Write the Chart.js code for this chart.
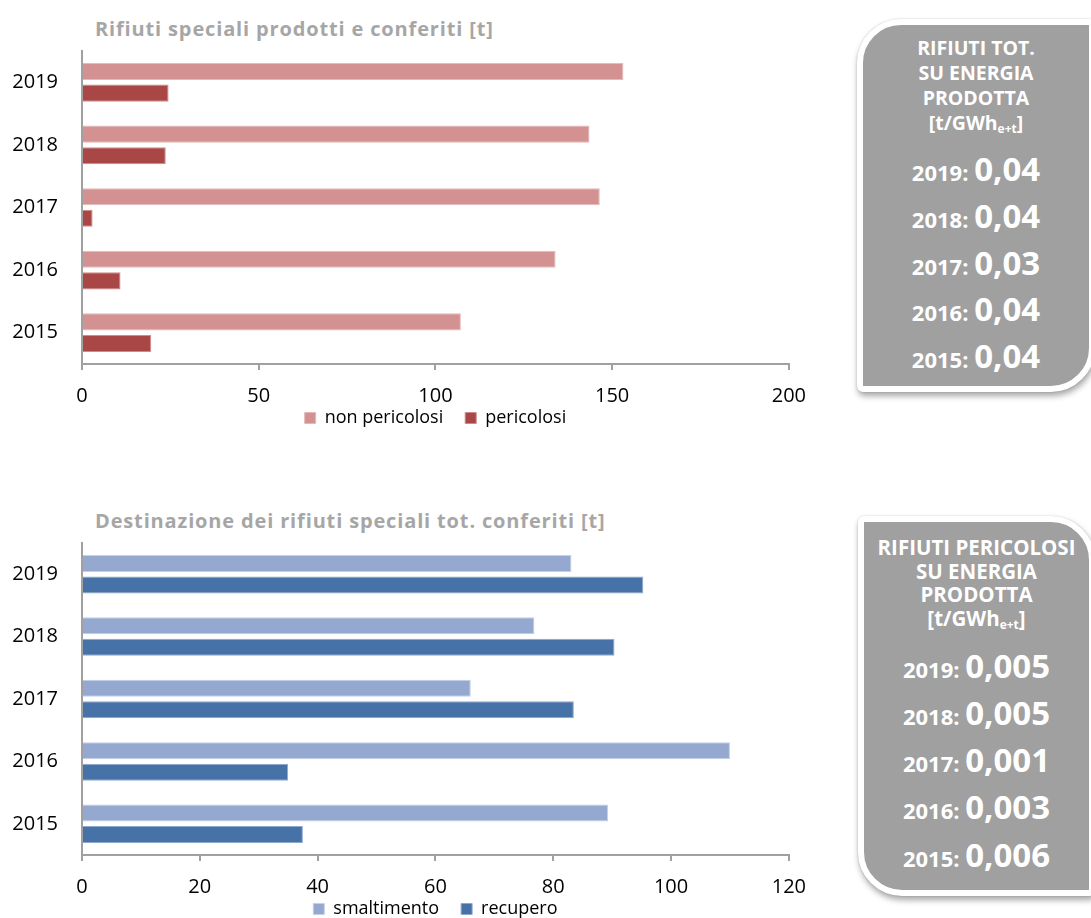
<!DOCTYPE html>
<html lang="it">
<head>
<meta charset="utf-8">
<title>Rifiuti speciali</title>
<script src="https://cdn.jsdelivr.net/npm/chart.js@4.4.1/dist/chart.umd.min.js"></script>
<style>
  html, body { margin: 0; padding: 0; background: #fff; }
  body { width: 1091px; height: 918px; position: relative; overflow: hidden; font-family: "Open Sans", "Noto Sans", sans-serif; }
  .titolo { position: absolute; left: 95px; font-weight: bold; font-size: 20px; line-height: 24px; letter-spacing: 0.85px; color: #a6a6a6; white-space: nowrap; }
  .grafico { position: absolute; left: 0; width: 820px; height: 420px; }
  .riquadro { position: absolute; box-sizing: border-box; background: #a0a0a0; border: 6px solid #fff;
              box-shadow: 1px 4px 6px rgba(0,0,0,0.35), 0 0 2px rgba(0,0,0,0.15); color: #fff; font-weight: bold; text-align: center; }
  .intestazione { font-size: 19.5px; line-height: 25px; }
  .intestazione sub { font-size: 12px; vertical-align: -3px; line-height: 0; }
  .riga { font-size: 22px; line-height: 46.75px; height: 46.75px; white-space: nowrap; }
  .riga .valore { font-size: 33px; line-height: 33px; }
  #righePericolosi .riga { line-height: 47.2px; height: 47.2px; }
</style>
</head>
<body>

<div class="titolo" style="top:17px">Rifiuti speciali prodotti e conferiti [t]</div>
<div class="grafico" style="top:40px"><canvas id="graficoProdotti"></canvas></div>

<div class="titolo" style="top:509px">Destinazione dei rifiuti speciali tot. conferiti [t]</div>
<div class="grafico" style="top:531px"><canvas id="graficoDestinazione"></canvas></div>

<div class="riquadro" id="boxTot" style="left:857px; top:19px; width:238px; height:373px; border-radius:44px 6px 44px 6px;">
  <div class="intestazione" style="padding-top:10px">RIFIUTI TOT.<br>SU ENERGIA<br>PRODOTTA<br>[t/GWh<sub>e+t</sub>]</div>
  <div id="righeTot" style="margin-top:14px"></div>
</div>

<div class="riquadro" id="boxPericolosi" style="left:858px; top:516px; width:237px; height:380px; border-radius:6px 44px 6px 44px;">
  <div class="intestazione" style="padding-top:14px; line-height:23.7px; font-size:20.5px">RIFIUTI PERICOLOSI<br>SU ENERGIA<br>PRODOTTA<br>[t/GWh<sub>e+t</sub>]</div>
  <div id="righePericolosi" style="margin-top:15px"></div>
</div>

<script>
// anni (dall'alto verso il basso)
const anni = ["2019", "2018", "2017", "2016", "2015"];

// rifiuti speciali prodotti e conferiti [t]
const nonPericolosi = [153.2, 143.6, 146.5, 134.0, 107.2];
const pericolosi = [24.5, 23.7, 3.0, 10.9, 19.6];

// destinazione dei rifiuti speciali conferiti [t]
const smaltimento = [83.1, 76.8, 66.0, 110.0, 89.3];
const recupero = [95.3, 90.4, 83.5, 35.0, 37.5];

// limiti degli assi x
const maxProdotti = 200, passoProdotti = 50;
const maxDestinazione = 120, passoDestinazione = 20;

// indicatori su energia prodotta [t/GWh e+t]
const totSuEnergia = ["0,04", "0,04", "0,03", "0,04", "0,04"];
const pericolosiSuEnergia = ["0,005", "0,005", "0,001", "0,003", "0,006"];

const FONT = "'Open Sans', 'Noto Sans', sans-serif";
const GRIGIO_ASSE = "#a0a0a0";

// legenda più vicina alle etichette dell'asse x e centrata sull'area del grafico
const legendaSu = {
    id: "legendaSu",
    afterLayout(chart) {
        const spostamento = 23;
        chart.legend.top -= spostamento;
        chart.legend.bottom -= spostamento;
        chart.legend.left = chart.chartArea.left;
        chart.legend.right = chart.chartArea.right;
    },
};

function riempiRiquadro(id, valori) {
    const box = document.getElementById(id);
    anni.forEach((anno, i) => {
        const riga = document.createElement("div");
        riga.className = "riga";
        riga.innerHTML = `<span class="anno">${anno}: </span><span class="valore">${valori[i]}</span>`;
        box.appendChild(riga);
    });
}

function creaGrafico(canvasId, serie, maxX, passo, paddingTop) {
    const config = {
        type: "bar",
        data: {
            labels: anni,
            datasets: serie.map((s) => ({
                label: s.nome,
                data: s.valori,
                backgroundColor: s.colore,
                borderColor: s.bordo,
                borderWidth: 1,
                categoryPercentage: 0.69,
                barPercentage: 0.79,
            })),
        },
        options: {
            indexAxis: "y",
            responsive: true,
            maintainAspectRatio: false,
            animation: false,
            layout: { padding: { top: paddingTop, right: 25, left: 0, bottom: 0 } },
            scales: {
                x: {
                    min: 0,
                    max: maxX,
                    ticks: { stepSize: passo, color: "#000", font: { family: FONT, size: 20 }, padding: 14 },
                    grid: { display: true, drawOnChartArea: false, drawTicks: true, tickLength: 6, color: GRIGIO_ASSE, lineWidth: 2 },
                    border: { color: GRIGIO_ASSE, width: 2 },
                    afterFit: (scale) => { scale.height = 46; },
                },
                y: {
                    ticks: { color: "#000", font: { family: FONT, size: 20 }, padding: 24 },
                    grid: { display: false, drawTicks: false },
                    border: { color: GRIGIO_ASSE, width: 2 },
                    afterFit: (scale) => {
                        scale.width = 82;
                        scale.paddingTop = 0;
                        scale.paddingBottom = 0;
                    },
                },
            },
            plugins: {
                legend: {
                    position: "bottom",
                    labels: { color: "#000", font: { family: FONT, size: 18 }, boxWidth: 11, boxHeight: 11, padding: 22 },
                },
                tooltip: { enabled: false },
            },
        },
        plugins: [legendaSu],
    };
    return new Chart(document.getElementById(canvasId), config);
}

creaGrafico("graficoProdotti", [
    { nome: "non pericolosi", valori: nonPericolosi, colore: "#d39191", bordo: "#e4b9b9" },
    { nome: "pericolosi", valori: pericolosi, colore: "#a94646", bordo: "#d08a8a" },
], maxProdotti, passoProdotti, 11);

creaGrafico("graficoDestinazione", [
    { nome: "smaltimento", valori: smaltimento, colore: "#95a9d0", bordo: "#c3d0e6" },
    { nome: "recupero", valori: recupero, colore: "#4672a7", bordo: "#8ea8cc" },
], maxDestinazione, passoDestinazione, 12);

riempiRiquadro("righeTot", totSuEnergia);
riempiRiquadro("righePericolosi", pericolosiSuEnergia);
</script>
</body>
</html>
